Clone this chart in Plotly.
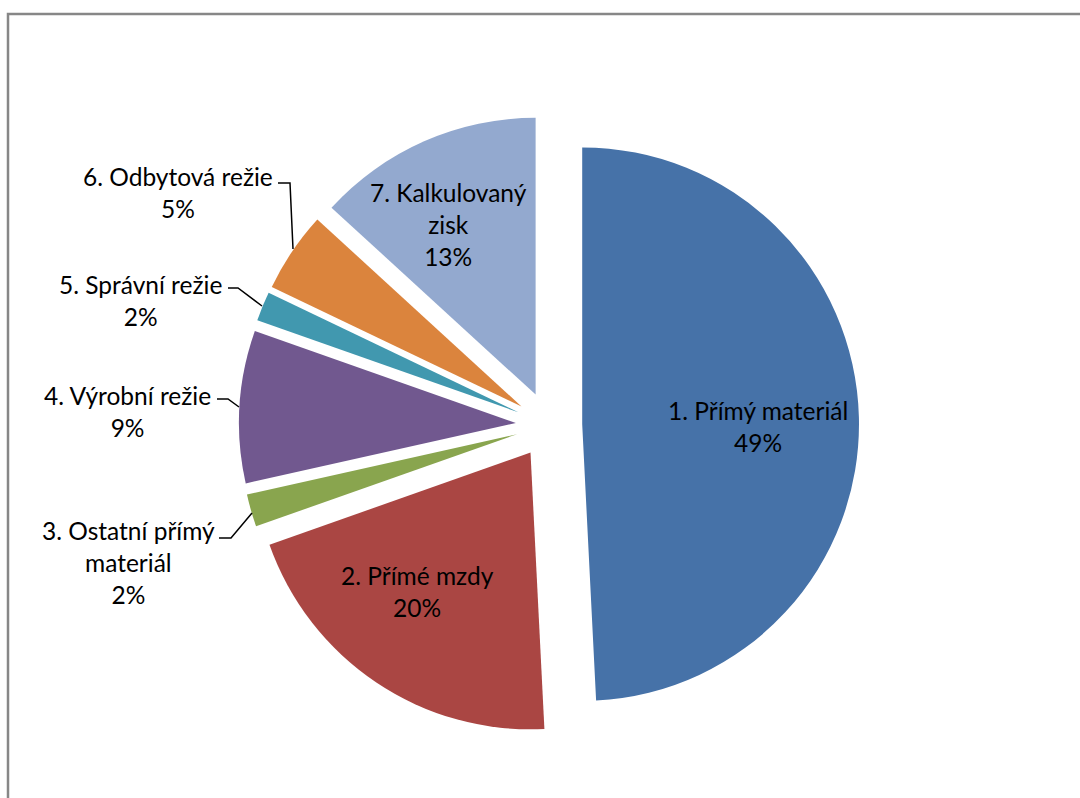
import plotly.graph_objects as go

# ---- data ----
categories = ["1. Přímý materiál", "2. Přímé mzdy", "3. Ostatní přímý materiál",
              "4. Výrobní režie", "5. Správní režie", "6. Odbytová režie",
              "7. Kalkulovaný zisk"]
label_lines = ["1. Přímý materiál", "2. Přímé mzdy", "3. Ostatní přímý<br>materiál",
               "4. Výrobní režie", "5. Správní režie", "6. Odbytová režie",
               "7. Kalkulovaný<br>zisk"]
values = [49.2, 20.4, 1.9, 8.9, 1.7, 4.7, 13.2]
colors = ["#4672A8", "#AA4643", "#89A54E", "#71588F", "#4198AF", "#DB843D", "#93A9CF"]

W, H = 1080, 798
FONT = "Lato"
FS = 24.5

def px(x):
    return x / W

def py(y):
    return 1 - y / H

# pie geometry (centre ~ (549,425), radius ~277, pull 0.12)
cx, cy, side = 549, 425, 620
fig = go.Figure(go.Pie(
    labels=categories,
    values=values,
    sort=False,
    direction="clockwise",
    rotation=0,
    pull=0.12,
    marker=dict(colors=colors, line=dict(width=0)),
    textinfo="none",
    hoverinfo="label+percent",
    showlegend=False,
    domain=dict(x=[px(cx - side / 2), px(cx + side / 2)],
                y=[py(cy + side / 2), py(cy - side / 2)]),
))

total = sum(values)
pcts = [round(v / total * 100) for v in values]

# label placement (centre of text block, pixels)
label_pos = [(758, 426), (417, 591), (128, 562), (127, 411), (140, 300), (178, 192), (448, 225)]
for lab, p, (x, y) in zip(label_lines, pcts, label_pos):
    fig.add_annotation(x=px(x), y=py(y), xref="paper", yref="paper",
                       text=f"{lab}<br>{p}%", showarrow=False,
                       font=dict(family=FONT, size=FS, color="#000000"),
                       align="center", xanchor="center", yanchor="middle")

# leader lines for outside labels
leaders = [
    [(278, 183), (290, 183), (293, 249)],
    [(228, 288), (238, 288), (262, 306)],
    [(217, 399), (228, 399), (239, 407)],
    [(219, 538), (231, 538), (252, 513)],
]
for pts in leaders:
    path = "M " + " L ".join(f"{px(a)},{py(b)}" for a, b in pts)
    fig.add_shape(type="path", path=path, xref="paper", yref="paper",
                  line=dict(color="#000000", width=1.5))

# chart frame
fig.add_shape(type="rect", xref="paper", yref="paper",
              x0=px(8), x1=px(1090), y0=py(810), y1=py(14),
              line=dict(color="#878787", width=2.5), fillcolor="rgba(0,0,0,0)")

fig.update_layout(width=W, height=H, margin=dict(l=0, r=0, t=0, b=0),
                  paper_bgcolor="white", plot_bgcolor="white",
                  font=dict(family=FONT, size=FS))

fig.write_html("out.html", config={"displayModeBar": False},
               post_script="document.body.style.margin='0';document.body.style.overflow='hidden';")
